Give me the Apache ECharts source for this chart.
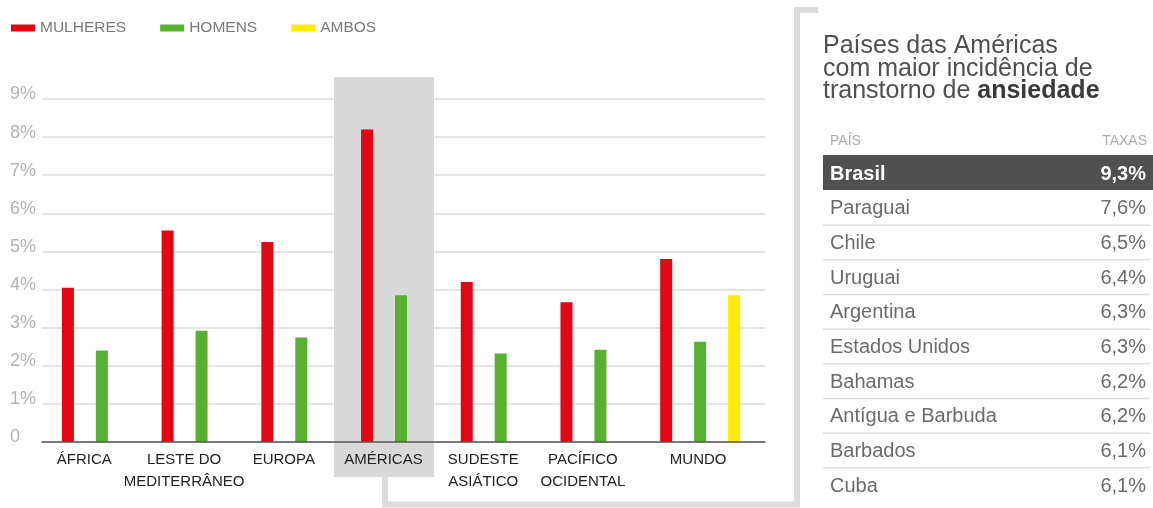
<!DOCTYPE html>
<html><head><meta charset="utf-8">
<script src="https://cdn.jsdelivr.net/npm/echarts@6/dist/echarts.min.js"></script>
<style>html,body{margin:0;padding:0;background:#fff}#c{width:1153px;height:508px}</style>
</head><body><div id="c"></div>
<script>
// ---- data ----
const categories = ['ÁFRICA', 'LESTE DO\nMEDITERRÂNEO', 'EUROPA', 'AMÉRICAS', 'SUDESTE\nASIÁTICO', 'PACÍFICO\nOCIDENTAL', 'MUNDO'];
const mulheres = [4.05, 5.55, 5.25, 8.2, 4.2, 3.67, 4.8];
const homens = [2.4, 2.92, 2.74, 3.85, 2.32, 2.42, 2.63];
const ambos = [null, null, null, null, null, null, 3.85];
const yTickLabels = ['0', '1%', '2%', '3%', '4%', '5%', '6%', '7%', '8%', '9%'];
const highlightCategory = 'AMÉRICAS';
const countries = ['Brasil', 'Paraguai', 'Chile', 'Uruguai', 'Argentina', 'Estados Unidos', 'Bahamas', 'Antígua e Barbuda', 'Barbados', 'Cuba'];
const rates = ['9,3%', '7,6%', '6,5%', '6,4%', '6,3%', '6,3%', '6,2%', '6,2%', '6,1%', '6,1%'];

const FONT = '"Liberation Sans", Arial, Helvetica, sans-serif';
const chart = echarts.init(document.getElementById('c'), null, {renderer: 'canvas'});

const option = {
  animation: false,
  textStyle: {fontFamily: FONT},
  legend: {
    left: 11, top: 20, padding: 0, itemWidth: 24, itemHeight: 7, itemGap: 34, icon: 'rect',
    textStyle: {color: '#7a7a7a', fontSize: 15.5, fontFamily: FONT},
    data: ['MULHERES', 'HOMENS', 'AMBOS']
  },
  grid: [
    {left: 52, right: 403, top: 99, bottom: 66},
    {left: 42, right: 388, top: 99, bottom: 66}
  ],
  xAxis: [
    {
      type: 'category', gridIndex: 0, data: categories, z: 3,
      axisLine: {show: false}, axisTick: {show: false},
      axisLabel: {
        margin: 7, interval: 0,
        formatter: function (v) {
          const st = v === 'MUNDO' ? 'm' : 'a';
          return v.split('\n').map(l => '{' + st + '|' + l + '}').join('\n');
        },
        rich: {
          a: {fontSize: 15, color: '#222', lineHeight: 22, fontFamily: FONT, padding: [0, 35, 0, 0]},
          m: {fontSize: 15, color: '#222', lineHeight: 22, fontFamily: FONT, padding: [0, 4, 0, 0]}
        }
      }
    },
    {
      type: 'value', gridIndex: 1, min: 0, max: 1, z: 3,
      axisLine: {show: true, lineStyle: {color: '#555', width: 1.5}},
      axisTick: {show: false}, axisLabel: {show: false}, splitLine: {show: false}
    }
  ],
  yAxis: [
    {type: 'value', gridIndex: 0, min: 0, max: 9, interval: 1, show: false, splitLine: {show: false}},
    {
      type: 'value', gridIndex: 1, min: 0, max: 9, interval: 1, z: 0,
      axisLine: {show: false}, axisTick: {show: false},
      splitLine: {show: true, lineStyle: {color: '#e4e4e4', width: 2}},
      axisLabel: {
        align: 'left', margin: 32, color: '#b3b3b3', fontSize: 18, fontFamily: FONT,
        verticalAlign: 'bottom', lineHeight: 9,
        formatter: function (v) { return yTickLabels[Math.round(v)]; }
      }
    }
  ],
  series: [
    {name: 'MULHERES', type: 'bar', xAxisIndex: 0, yAxisIndex: 0, data: mulheres, barWidth: 12, barGap: '183%', itemStyle: {color: '#e30613'}, z: 2},
    {name: 'HOMENS', type: 'bar', xAxisIndex: 0, yAxisIndex: 0, data: homens, barWidth: 12, barGap: '183%', itemStyle: {color: '#58b031'}, z: 2},
    {name: 'AMBOS', type: 'bar', xAxisIndex: 0, yAxisIndex: 0, data: ambos, barWidth: 12, barGap: '183%', itemStyle: {color: '#ffec00'}, z: 2}
  ]
};
chart.setOption(option);

// ---- decorations: highlight band, bracket, table ----
const cx = chart.convertToPixel({xAxisIndex: 0}, highlightCategory) - 17;
const topY = chart.convertToPixel({yAxisIndex: 0}, 9.58);
const botY = 477;
const elements = [];
elements.push({type: 'rect', z: 1, shape: {x: cx - 50, y: topY, width: 100, height: botY - topY}, style: {fill: '#d9d9d9'}});
elements.push({type: 'polyline', z: 1, shape: {points: [[cx + 1, botY], [cx + 1, 504.5], [797, 504.5], [797, 10], [818, 10]]},
  style: {stroke: '#dcdcdc', lineWidth: 6, fill: null, lineJoin: 'miter'}});

// title
elements.push({type: 'text', z: 5, x: 823, y: 35, style: {
  text: '{n|Países das Américas}\n{n|com maior incidência de}\n{n|transtorno de }{b|ansiedade}',
  verticalAlign: 'top', align: 'left',
  rich: {
    n: {fontSize: 25, fontFamily: FONT, fill: '#505050', lineHeight: 22.5},
    b: {fontSize: 25, fontFamily: FONT, fill: '#3a3a3a', fontWeight: 'bold', lineHeight: 22.5}
  }
}});
// header
elements.push({type: 'text', z: 5, x: 830, y: 141, style: {text: 'PAÍS', fontSize: 14, fontFamily: FONT, fill: '#ababab', verticalAlign: 'middle', align: 'left'}});
elements.push({type: 'text', z: 5, x: 1147, y: 141, style: {text: 'TAXAS', fontSize: 14, fontFamily: FONT, fill: '#ababab', verticalAlign: 'middle', align: 'right'}});

const rowH = 34.67, row0 = 173;
countries.forEach(function (name, i) {
  const cy = row0 + i * rowH;
  const first = i === 0;
  if (first) {
    elements.push({type: 'rect', z: 4, shape: {x: 823, y: cy - 18, width: 330, height: 35}, style: {fill: '#505050'}});
  } else if (i < countries.length - 1) {
    elements.push({type: 'line', z: 4, shape: {x1: 823, y1: cy + 17.5, x2: 1150, y2: cy + 17.5}, style: {stroke: '#dedede', lineWidth: 1.5}});
  }
  elements.push({type: 'text', z: 5, x: 830, y: cy + 1, style: {text: name, fontSize: 20, fontFamily: FONT,
    fontWeight: first ? 'bold' : 'normal', fill: first ? '#ffffff' : '#6b6b6b', verticalAlign: 'middle', align: 'left'}});
  elements.push({type: 'text', z: 5, x: 1146, y: cy + 1, style: {text: rates[i], fontSize: 20, fontFamily: FONT,
    fontWeight: first ? 'bold' : 'normal', fill: first ? '#ffffff' : '#6b6b6b', verticalAlign: 'middle', align: 'right'}});
});
chart.setOption({graphic: {elements: elements}});
</script>
</body></html>
